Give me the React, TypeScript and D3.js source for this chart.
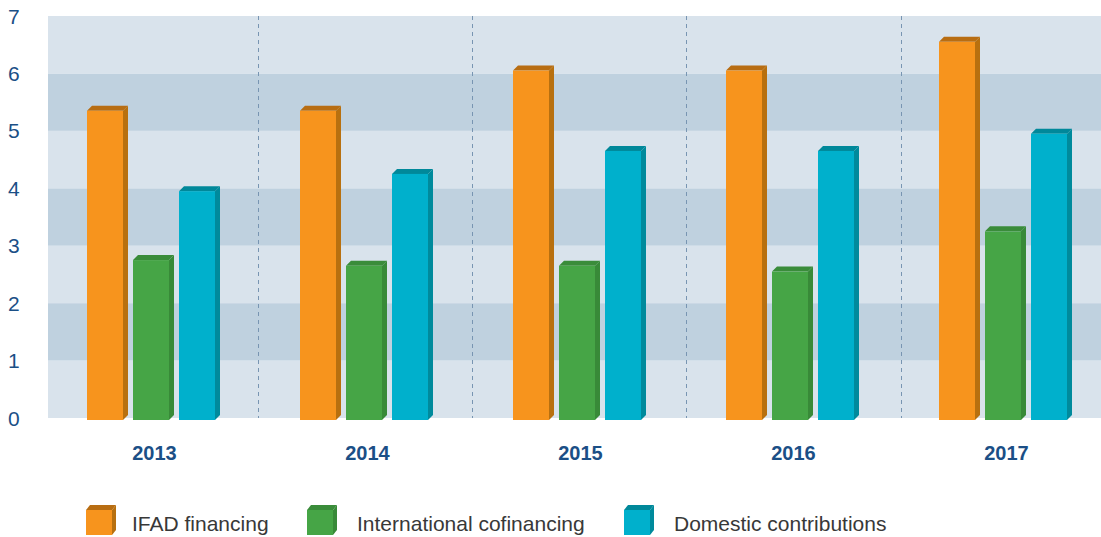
import React from "react";
import * as d3 from "d3";

const years = ["2013", "2014", "2015", "2016", "2017"];
const seriesNames = ["IFAD financing", "International cofinancing", "Domestic contributions"];
const ifadFinancing = [5.35, 5.35, 6.05, 6.05, 6.55];
const intlCofinancing = [2.75, 2.65, 2.65, 2.55, 3.25];
const domesticContrib = [3.95, 4.25, 4.65, 4.65, 4.95];
const yTicks = [0, 1, 2, 3, 4, 5, 6, 7];

const front = ["#f7941d", "#46a546", "#00b0cc"];
const side = ["#b8700f", "#388a38", "#008a9c"];
const top = ["#b86d12", "#3a8c3a", "#00889a"];

const W = 1101, H = 537;
const plotLeft = 48, plotRight = 1101, plotTop = 16, plotBottom = 418;
const depth = 5;
const groupW = 128;

export default function App() {
  const series = [ifadFinancing, intlCofinancing, domesticContrib];

  const y = d3.scaleLinear().domain([0, 7]).range([plotBottom, plotTop]);
  // bar groups and the dashed group dividers
  const x0 = d3.scaleBand().domain(years).range([87, 87 + 5 * 213]);
  const xSep = d3.scaleBand().domain(years).range([43.5, 1115]);
  const x1 = d3.scaleBand().domain(["0", "1", "2"]).range([0, groupW]).paddingInner(10 / 46);

  const bar = (x: number, yTop: number, yBot: number, w: number, i: number, key: string) => (
    <g key={key}>
      <polygon
        points={`${x},${yTop} ${x + depth},${yTop - depth} ${x + w + depth},${yTop - depth} ${x + w},${yTop}`}
        fill={top[i]}
      />
      <polygon
        points={`${x + w},${yTop} ${x + w + depth},${yTop - depth} ${x + w + depth},${yBot - depth} ${x + w},${yBot}`}
        fill={side[i]}
      />
      <rect x={x} y={yTop} width={w} height={yBot - yTop} fill={front[i]} />
    </g>
  );

  const legendX = [86, 307, 624];
  const legendTextX = [132, 357, 674];

  return (
    <svg width={W} height={H} style={{ position: "absolute", left: 0, top: 0 }}>
      {/* background bands */}
      {d3.range(7).map((k) => (
        <rect
          key={"band" + k}
          x={plotLeft}
          y={y(k + 1)}
          width={plotRight - plotLeft}
          height={y(k) - y(k + 1)}
          fill={k % 2 === 0 ? "#d9e3ec" : "#bfd1df"}
        />
      ))}
      {years.slice(1).map((yr) => (
        <line
          key={"sep" + yr}
          x1={Math.round(xSep(yr)!) + 0.5}
          x2={Math.round(xSep(yr)!) + 0.5}
          y1={plotTop}
          y2={plotBottom}
          stroke="#7895b2"
          strokeWidth={1}
          strokeDasharray="4,4"
        />
      ))}
      {yTicks.map((t) => (
        <text
          key={"yt" + t}
          x={8}
          y={y(t)}
          dy="0.36em"
          fontFamily="Liberation Sans, Arial, sans-serif"
          fontSize={21}
          fill="#1b4f86"
        >
          {t}
        </text>
      ))}
      {years.map((yr, gi) => {
        const gx = x0(yr)!;
        return (
          <g key={"g" + yr}>
            {series.map((s, si) =>
              bar(gx + x1(String(si))!, y(s[gi]), plotBottom + 2, x1.bandwidth(), si, yr + si)
            )}
            <text
              x={gx + (groupW + depth) / 2 + 1}
              y={460}
              textAnchor="middle"
              fontFamily="Liberation Sans, Arial, sans-serif"
              fontWeight="bold"
              fontSize={20}
              fill="#1b4f86"
            >
              {yr}
            </text>
          </g>
        );
      })}
      {/* legend */}
      {seriesNames.map((name, i) => (
        <g key={"lg" + i}>
          <polygon
            points={`${legendX[i]},510 ${legendX[i] + 4},505 ${legendX[i] + 30},505 ${legendX[i] + 26},510`}
            fill={top[i]}
          />
          <polygon
            points={`${legendX[i] + 26},510 ${legendX[i] + 30},505 ${legendX[i] + 30},530 ${legendX[i] + 26},535`}
            fill={side[i]}
          />
          <rect x={legendX[i]} y={510} width={26} height={25} fill={front[i]} />
          <text
            x={legendTextX[i]}
            y={531}
            fontFamily="Liberation Sans, Arial, sans-serif"
            fontSize={21}
            fill="#383838"
          >
            {name}
          </text>
        </g>
      ))}
    </svg>
  );
}
